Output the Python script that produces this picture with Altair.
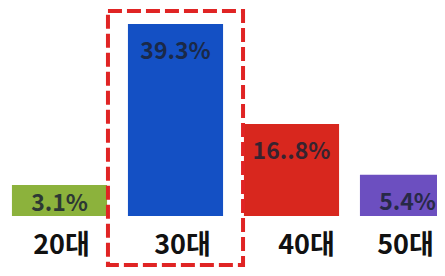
import altair as alt
import pandas as pd

categories = ["20대", "30대", "40대", "50대"]
values = [3.1, 39.3, 16.8, 5.4]
labels = ["3.1%", "39.3%", "16..8%", "5.4%"]
colors = ["#8cb23c", "#1450c4", "#d8271e", "#6c4fc0"]

df = pd.DataFrame({"cat": categories, "value": values, "label": labels})

FONT = "Noto Sans CJK KR"
BASE = -3.9

label_offset = {
    "condition": [
        {"test": "datum.value === '20대'", "value": 2},
        {"test": "datum.value === '30대'", "value": 7},
        {"test": "datum.value === '40대'", "value": 15},
    ],
    "value": -2,
}

x = alt.X(
    "cat:N",
    sort=categories,
    scale=alt.Scale(range=[-6.5, 457.5], paddingInner=0.18, paddingOuter=0.09),
    axis=alt.Axis(
        title=None, domain=False, ticks=False, grid=False, labelAngle=0,
        labelFont=FONT, labelFontWeight="bold", labelFontSize=27,
        labelColor="#111111", labelPadding=16, labelOffset=label_offset,
    ),
)
yscale = alt.Scale(domain=[BASE, 42.9], nice=False, zero=False)

bars = alt.Chart(df).mark_bar().encode(
    x=x,
    y=alt.Y("value:Q", scale=yscale, axis=None),
    y2=alt.datum(BASE),
    color=alt.Color("cat:N", scale=alt.Scale(domain=categories, range=colors), legend=None),
)

text = alt.Chart(df).transform_calculate(
    ly="max(datum.value - 6.3, -1.3)"
).mark_text(
    font=FONT, fontWeight="bold", fontSize=23, color="#1c2333", opacity=0.85,
    baseline="middle",
).encode(
    x=alt.X("cat:N", sort=categories),
    y=alt.Y("ly:Q"),
    text="label:N",
)

box = alt.Chart(df).transform_filter(
    alt.datum.cat == "30대"
).mark_rect(
    filled=False, stroke="#e02424", strokeWidth=4, strokeDash=[14, 5],
    width={"band": 1.42},
).encode(
    x=alt.X("cat:N", sort=categories),
    y=alt.datum(42.2),
    y2=alt.datum(-14.9),
)

chart = alt.layer(bars, text, box).properties(
    width=429,
    height=208,
    padding={"left": 0, "top": 0, "right": 0, "bottom": 52},
    autosize=alt.AutoSizeParams(type="none"),
).configure_view(stroke=None)

chart.save("out.html", embed_options={"renderer": "svg", "actions": False})
